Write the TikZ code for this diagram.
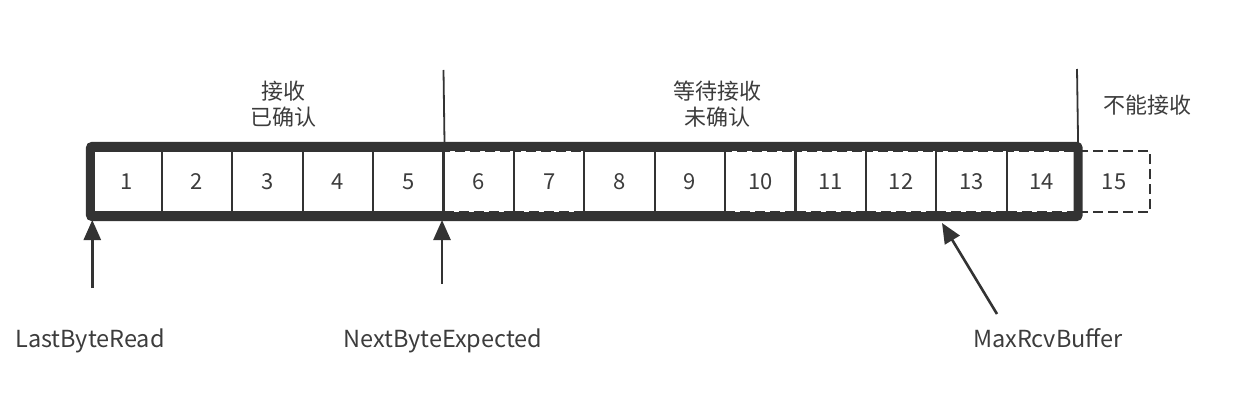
\documentclass[tikz,border=0pt]{standalone}
\usepackage{fontspec}
\setmainfont{Noto Sans CJK SC}
\usetikzlibrary{arrows.meta, fit}
\definecolor{linegray}{HTML}{333333}
\definecolor{textgray}{HTML}{3C3C3C}

\begin{document}
\begin{tikzpicture}[x=1pt,y=-1pt,
    every node/.append style={text=textgray,font=\fontsize{21}{26}\selectfont}]
\useasboundingbox (0,0) rectangle (1242,412);

\begin{scope}[
    every node/.style={rectangle,draw=linegray,line width=2.2pt,minimum width=70.4pt,minimum height=61pt,inner sep=0pt,text=textgray,font=\fontsize{22}{26}\selectfont},
    dashcell/.style={dash pattern=on 10pt off 5pt}]
    % % dashed cells first
    \node (6) at (478.7,181.5) [dashcell] {6};
    \node (7) at (549.1,181.5) [dashcell] {7};
    \node (10) at (760.3,181.5) [dashcell] {10};
    \node (11) at (830.7,181.5) [dashcell] {11};
    \node (12) at (901.1,181.5) [dashcell] {12};
    \node (13) at (971.5,181.5) [dashcell] {13};
    \node (14) at (1041.9,181.5) [dashcell] {14};
    \node (15) at (1114,181.5) [dashcell,minimum width=72pt] {15};

    % % solid cells
    \node (1) at (126.7,181.5) {1};
    \node (2) at (197.1,181.5) {2};
    \node (3) at (267.5,181.5) {3};
    \node (4) at (337.9,181.5) {4};
    \node (5) at (408.3,181.5) {5};
    \node (8) at (619.5,181.5) {8};
    \node (9) at (689.9,181.5) {9};
\end{scope}

% % receive window
\node (window) [fit=(1)(14),draw=linegray,line width=9pt,inner xsep=0pt,inner ysep=3.5pt,rounded corners=2pt] {};

\begin{scope}[every node/.style={align=center,text=textgray,font=\fontsize{22}{26}\selectfont}]
    \node (acked) at (283,104) {接收\\已确认};
    \node (waiting) at (717,104) {等待接收\\未确认};
    \node (refused) at (1147.5,105) {不能接收};
\end{scope}

\begin{scope}[every node/.style={anchor=base,text=textgray,font=\fontsize{23.5}{28}\selectfont}]
    \node (lbr) at (90,347) {LastByteRead};
    \node (nbe) at (443,347) {NextByteExpected};
    \node (mrb) at (1048,347) {MaxRcvBuffer};
\end{scope}

\coordinate (acktop) at (443.5,70);
\coordinate (waittop) at (1077,69);
\coordinate (lbrtail) at (92.3,288);
\coordinate (lbrtip) at (92.3,220);
\coordinate (nbetail) at (442,284);
\coordinate (nbetip) at (442,220);
\coordinate (mrbtail) at (997,314);
\coordinate (mrbtip) at (942,223);

\begin{scope}[>={Triangle[length=20pt,width=17pt]},
              every path/.style={draw=linegray}]
    \draw [line width=1.8pt] (acktop) -- (5.north east);
    \draw [line width=1.8pt] (waittop) -- (14.north east);

    \draw [->,line width=2.6pt] (lbrtail) -- (lbrtip);
    \draw [->,line width=2.6pt] (nbetail) -- (nbetip);
    \draw [->,line width=2.6pt] (mrbtail) -- (mrbtip);
\end{scope}
\end{tikzpicture}
\end{document}
